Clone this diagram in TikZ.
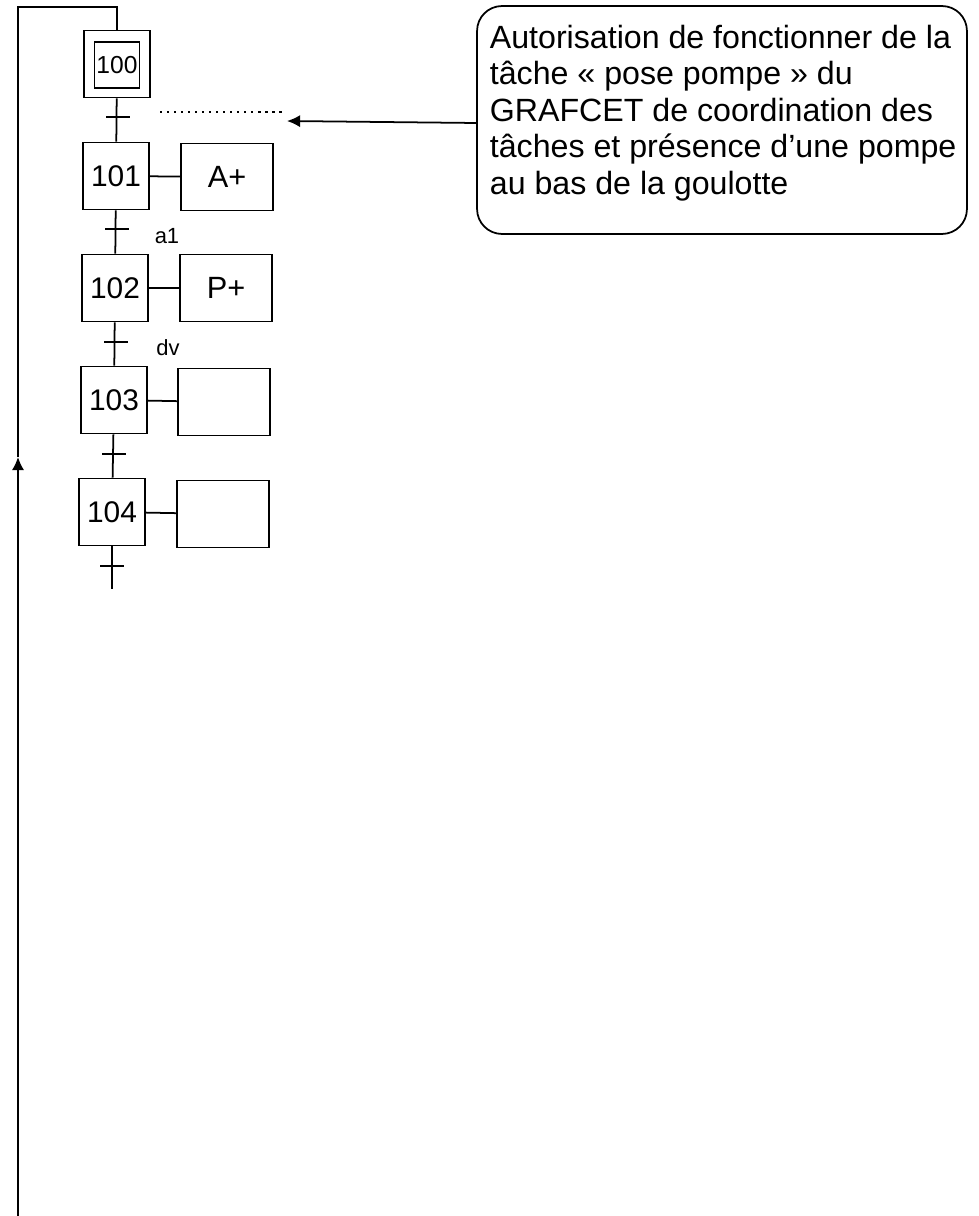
\documentclass[tikz,border=0pt]{standalone}
\usepackage{fontspec}
\setmainfont{Liberation Sans}
\usepackage{tikz}
\usetikzlibrary{arrows,arrows.meta}

\tikzset{
	etape/.style={draw,minimum width=1.32cm,minimum height=1.34cm,inner sep=0pt,font=\fontsize{17}{20}\selectfont},
	action/.style={draw,minimum width=1.84cm,minimum height=1.34cm,inner sep=0pt,font=\fontsize{17.5}{20}\selectfont},
	recept/.style={font=\fontsize{12.5}{15}\selectfont},
	fleche/.style={-{Latex[length=7.5pt,width=7pt]}}
}

\begin{document}
\begin{tikzpicture}[x=0.02cm,y=-0.02cm,line width=1pt]
		\useasboundingbox (0,0) rectangle (979,1216);
		\node[etape] (E100) at (117,64) {};
		\node[draw,minimum width=0.9cm,minimum height=0.92cm,inner sep=0pt,font=\fontsize{14}{16}\selectfont] (I100) at (117,65) {100};
		\node[etape] (E101) at (116,176) {101};
		\node[action] (A101) at (227,177) {A+};
		\node[etape] (E102) at (115,288) {102};
		\node[action] (A102) at (226,288) {P+};
		\node[etape] (E103) at (114,400) {103};
		\node[action] (A103) at (224,402) {};
		\node[etape] (E104) at (112,512) {104};
		\node[action] (A104) at (223,514) {};
		\coordinate (fin) at (112,589);
		%
		\node[recept] (a1) at (167,236) {a1};
		\node[recept] (dv) at (168,348) {dv};
		%
		\path
		(E100) edge (E101)
		(E101) edge (E102)
		(E102) edge (E103)
		(E103) edge (E104)
		(E104.south) edge (fin)
		(E101) edge (A101)
		(E102) edge (A102)
		(E103) edge (A103)
		(E104) edge (A104);
		%
		\draw (106,117) -- (130,117);
		\draw (105,229) -- (129,229);
		\draw (104,342) -- (128,342);
		\draw (102,454) -- (126,454);
		\draw (100,566) -- (124,566);
		%
		\coordinate (bas) at (18,1216);
		\coordinate (fl) at (18,457);
		\coordinate (haut) at (18,7);
		\draw[fleche] (bas) -- (fl);
		\draw (fl) -- (haut) -| (E100);
		%
		\node[draw,rounded corners=0.5cm,minimum width=9.8cm,minimum height=4.56cm] (Note) at (722,120) {};
		\node[anchor=north west,align=left,inner sep=0pt,font=\fontsize{18.3}{20.8}\selectfont] (NoteTxt) at (489,24) {Autorisation de fonctionner de la\\tâche « pose pompe » du\\GRAFCET de coordination des\\tâches et présence d’une pompe\\au bas de la goulotte};
		\coordinate (cible) at (287,121);
		\draw[fleche] (Note.west |- 0,123) -- (cible);
		\draw[dash pattern=on 1.2pt off 2.8pt] (160,112) -- (282,112);
\end{tikzpicture}
\end{document}
